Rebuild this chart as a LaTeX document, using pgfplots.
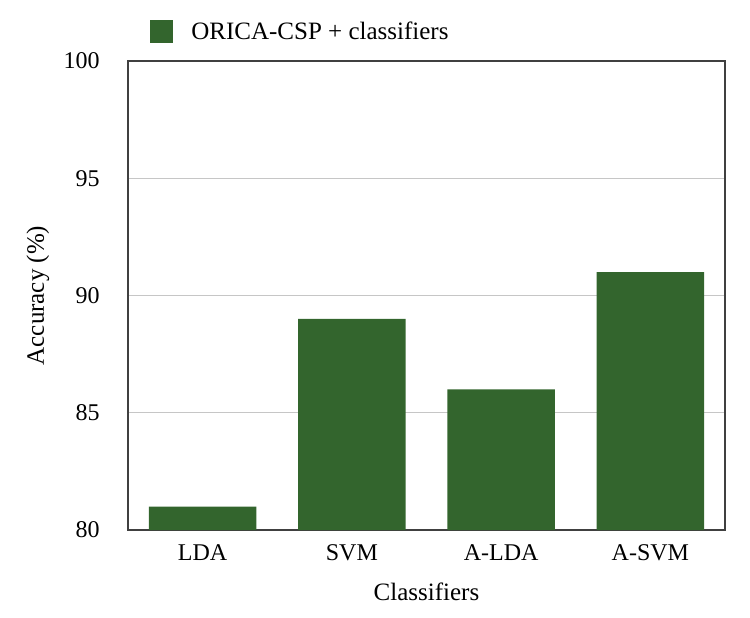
\documentclass[border=0pt]{standalone}
\usepackage{fontspec}
\setmainfont{Liberation Serif}
\usepackage{pgfplots}
\pgfplotsset{compat=1.18}
\definecolor{barg}{RGB}{51,101,45}
\begin{document}
\fontsize{12pt}{14pt}\selectfont
\begin{tikzpicture}
\useasboundingbox (-64pt,-43.5pt) rectangle (311pt,265pt);
\begin{axis}[
    at={(0,0)}, anchor=south west,
    scale only axis,
    width=298.5pt, height=234.5pt,
    xmin=-0.5, xmax=3.5,
    ymin=80, ymax=100,
    ytick={80,85,90,95,100},
    xtick={0,1,2,3},
    xticklabels={LDA,SVM,A-LDA,A-SVM},
    major tick length=0pt,
    ymajorgrids,
    grid style={gray!45, line width=0.6pt},
    axis line style={black!75, line width=0.6pt},
    /pgf/number format/assume math mode=true,
    ticklabel style={font=\fontsize{12pt}{14pt}\selectfont},
    yticklabel style={xshift=-10pt},
    xticklabel style={yshift=-3pt},
    xlabel={Classifiers},
    ylabel={Accuracy (\%)},
    label style={font=\fontsize{12.5pt}{14pt}\selectfont},
    xlabel style={at={(0.5,0)}, anchor=center, yshift=-31pt},
    ylabel style={at={(0,0.5)}, anchor=center, yshift=45pt},
    legend style={at={(11pt,249pt)}, anchor=west, draw=none, fill=none,
        font=\fontsize{12.5pt}{14pt}\selectfont, inner sep=0pt},
    legend cell align=left,
    legend image code/.code={\fill[barg] (0pt,-5.75pt) rectangle (11.5pt,5.75pt);},
]
\addplot[ybar, bar width=0.72, fill=barg, draw=none, bar shift=0pt]
    coordinates {(0,81) (1,89) (2,86) (3,91)};
\addlegendentry{\hspace{7pt}ORICA-CSP + classifiers}
\end{axis}
\end{tikzpicture}
\end{document}
